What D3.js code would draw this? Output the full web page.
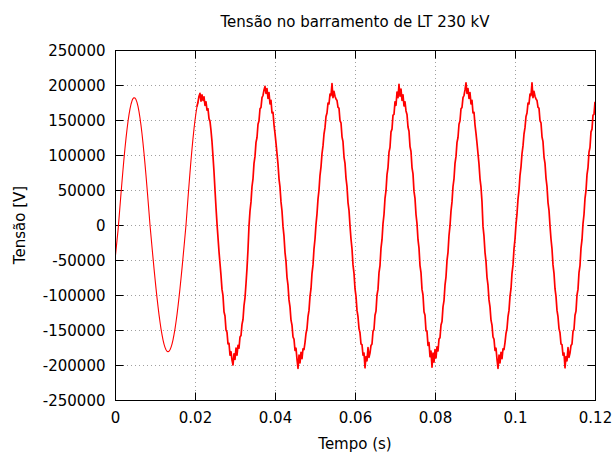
<!DOCTYPE html>
<html><head><meta charset="utf-8">
<script src="https://cdn.jsdelivr.net/npm/d3@7"></script>
<style>
body{margin:0;background:#fff;}
text{font-family:"DejaVu Sans",sans-serif;fill:#000;}
</style>
</head><body>
<svg id="chart" width="613" height="452"></svg>
<script>
// ---- data ----
const titulo = "Tensão no barramento de LT 230 kV";
const rotuloX = "Tempo (s)";
const rotuloY = "Tensão [V]";
const ticksX = [0, 0.02, 0.04, 0.06, 0.08, 0.1, 0.12];
const ticksY = [-250000, -200000, -150000, -100000, -50000, 0, 50000, 100000, 150000, 200000, 250000];
const passo = 0.00025; // sampling interval (s), first sample at t = 0
const inicioTransitorio = 0.0205; // s, disturbance starts (noisy part)
const tensao = [
-50000,-36000,-22000,-8000,
9100,27100,44900,62200,79000,94900,109900,123800,136500,147800,157600,165900,172500,177400,180600,181900,181500,179200,175200,169400,162000,152900,142300,130300,117000,102500,87000,70700,53600,36100,18100,0,
-15800,-31400,-46800,-61900,-76500,-90500,-103800,-116300,-128000,-138600,-148300,-156700,-164000,-170100,-174800,-178200,-180300,-181000,-180300,-178200,-174800,-170100,-164000,-156700,-148300,-138600,-128000,-116300,-103800,-90500,-76500,-61900,-46800,-31400,-15800,0,
19300,38500,57200,75200,92500,108700,123800,137500,149700,160200,169000,
176000,184000,188000,177000,186000,178000,183000,171000,176000,164000,166000,152000,148000,135000,119000,98000,76000,50000,25000,
2000,-18000,-38000,-55000,-72000,-92000,-101000,-124000,-130000,-150000,-153000,-170000,-169000,-186000,-181000,-193000,-200000,-184000,-192000,-176000,-186000,-172000,-176000,-160000,-158000,-142000,-135000,-115000,-104000,-84000,-62000,-35000,
-1000,20000,33000,55000,66000,88000,98000,118000,125000,144000,149000,166000,168000,182000,185000,193000,198000,188000,195000,181000,189000,173000,178000,160000,161000,143000,131000,117000,102000,87000,66000,54000,33000,20000,-2000,-16000,-39000,-52000,-75000,-86000,-107000,-117000,-136000,-143000,-160000,-163000,-179000,-176000,-192000,-205000,-186000,-197000,-182000,-191000,-177000,-178000,-168000,-155000,-148000,-131000,-122000,-102000,-91000,-69000,-57000,-34000,-20000,
1000,16000,37000,50000,71000,83000,102000,113000,130000,139000,155000,160000,174000,173000,187000,185000,202000,182000,191000,184000,180000,178000,168000,167000,149000,146000,126000,119000,97000,88000,67000,55000,32000,21000,-1000,-20000,-34000,-57000,-69000,-91000,-102000,-122000,-131000,-148000,-154000,-170000,-171000,-186000,-183000,-204000,-188000,-194000,-175000,-189000,-183000,-172000,-170000,-152000,-149000,-129000,-123000,-100000,-92000,-68000,-58000,-33000,-21000,
2000,15000,38000,49000,72000,82000,104000,111000,133000,137000,157000,158000,176000,171000,190000,182000,201000,184000,194000,178000,186000,170000,176000,163000,158000,140000,134000,112000,105000,82000,73000,48000,38000,15000,2000,-21000,-33000,-58000,-68000,-92000,-100000,-124000,-129000,-151000,-152000,-172000,-168000,-188000,-180000,-203000,-183000,-196000,-178000,-190000,-174000,-180000,-163000,-161000,-143000,-138000,-117000,-108000,-86000,-74000,-51000,-39000,-15000,
-1000,20000,33000,55000,66000,88000,98000,118000,125000,144000,149000,166000,168000,182000,185000,193000,203000,188000,195000,181000,189000,173000,178000,160000,161000,143000,131000,117000,102000,87000,66000,54000,33000,-2000,-16000,-39000,-52000,-75000,-86000,-107000,-117000,-136000,-143000,-160000,-163000,-179000,-176000,-192000,-205000,-186000,-197000,-182000,-191000,-177000,-178000,-168000,-155000,-148000,-131000,-122000,-102000,-91000,-69000,-57000,-34000,-20000,
1000,16000,37000,50000,71000,83000,102000,113000,130000,139000,155000,160000,174000,173000,187000,185000,203000,182000,191000,184000,180000,178000,168000,167000,149000,146000,126000,119000,97000,88000,67000,55000,32000,21000,-1000,-20000,-34000,-57000,-69000,-91000,-102000,-122000,-131000,-148000,-154000,-170000,-171000,-186000,-183000,-204000,-188000,-194000,-175000,-189000,-183000,-172000,-170000,-152000,-149000,-129000,-123000,-100000,-92000,-68000,-58000,-33000,-21000,
2000,15000,38000,49000,72000,82000,104000,111000,133000,137000,157000,158000,176000
];

// ---- layout ----
const m = {left: 115, right: 595, top: 50, bottom: 400};
const svg = d3.select("#chart");

const x = d3.scaleLinear().domain([0, 0.12]).range([m.left, m.right]);
const y = d3.scaleLinear().domain([-250000, 250000]).range([m.bottom, m.top]);

const fmtX = d => d === 0 ? "0" : String(+d.toFixed(2));
const fmtY = d => String(d);

// grid
const grid = svg.append("g").attr("stroke", "#a0a0a0").attr("stroke-width", 1).attr("stroke-dasharray", "1,3");
grid.selectAll("line.gx").data(ticksX.slice(1, -1)).join("line")
  .attr("x1", d => Math.round(x(d)) + 0.5).attr("x2", d => Math.round(x(d)) + 0.5)
  .attr("y1", m.top).attr("y2", m.bottom);
grid.selectAll("line.gy").data(ticksY.slice(1, -1)).join("line")
  .attr("y1", d => Math.round(y(d)) + 0.5).attr("y2", d => Math.round(y(d)) + 0.5)
  .attr("x1", m.left).attr("x2", m.right);

// axes (ticks inward, mirrored)
const tickLen = 8;
const axL = svg.append("g").attr("transform", `translate(${m.left + 0.5},0)`)
  .call(d3.axisLeft(y).tickValues(ticksY).tickFormat(fmtY).tickSizeInner(-tickLen).tickSizeOuter(0).tickPadding(10));
const axR = svg.append("g").attr("transform", `translate(${m.right + 0.5},0)`)
  .call(d3.axisRight(y).tickValues(ticksY).tickFormat("").tickSizeInner(-tickLen).tickSizeOuter(0));
const axB = svg.append("g").attr("transform", `translate(0,${m.bottom + 0.5})`)
  .call(d3.axisBottom(x).tickValues(ticksX).tickFormat(fmtX).tickSizeInner(-tickLen).tickSizeOuter(0).tickPadding(12));
const axT = svg.append("g").attr("transform", `translate(0,${m.top + 0.5})`)
  .call(d3.axisTop(x).tickValues(ticksX).tickFormat("").tickSizeInner(-tickLen).tickSizeOuter(0));
[axL, axR, axB, axT].forEach(a => {
  a.select(".domain").remove();
  a.selectAll(".tick line").attr("stroke", "#000");
  a.selectAll("text").style("font-size", "15px").attr("fill", "#000");
});
axL.selectAll("text").attr("dy", "0.35em");
axB.selectAll("text").attr("dy", "0.71em");

// curve
svg.append("clipPath").attr("id", "clip").append("rect")
  .attr("x", m.left).attr("y", m.top).attr("width", m.right - m.left).attr("height", m.bottom - m.top);
const pts = tensao.map((v, i) => ({t: i * passo, v}));
const linha = d3.line().x(d => x(d.t)).y(d => y(d.v));
const limpo = pts.filter(d => d.t <= inicioTransitorio + passo);
const ruidoso = pts.filter(d => d.t >= inicioTransitorio);
svg.append("path").datum(limpo)
  .attr("clip-path", "url(#clip)")
  .attr("fill", "none").attr("stroke", "#ff0000").attr("stroke-width", 1.1)
  .attr("stroke-linejoin", "round")
  .attr("d", linha);
svg.append("path").datum(ruidoso)
  .attr("clip-path", "url(#clip)")
  .attr("fill", "none").attr("stroke", "#ff0000").attr("stroke-width", 1.7)
  .attr("stroke-linejoin", "round")
  .attr("d", linha);

// frame
svg.append("rect").attr("x", m.left + 0.5).attr("y", m.top + 0.5)
  .attr("width", m.right - m.left).attr("height", m.bottom - m.top)
  .attr("fill", "none").attr("stroke", "#000").attr("stroke-width", 1);

// titles
svg.append("text").attr("x", (m.left + m.right) / 2).attr("y", 27).attr("text-anchor", "middle")
  .style("font-size", "15px").text(titulo);
svg.append("text").attr("x", (m.left + m.right) / 2).attr("y", 449).attr("text-anchor", "middle")
  .style("font-size", "15px").text(rotuloX);
svg.append("text").attr("transform", `translate(25,${(m.top + m.bottom) / 2}) rotate(-90)`)
  .attr("text-anchor", "middle").style("font-size", "15px").text(rotuloY);
</script>
</body></html>
